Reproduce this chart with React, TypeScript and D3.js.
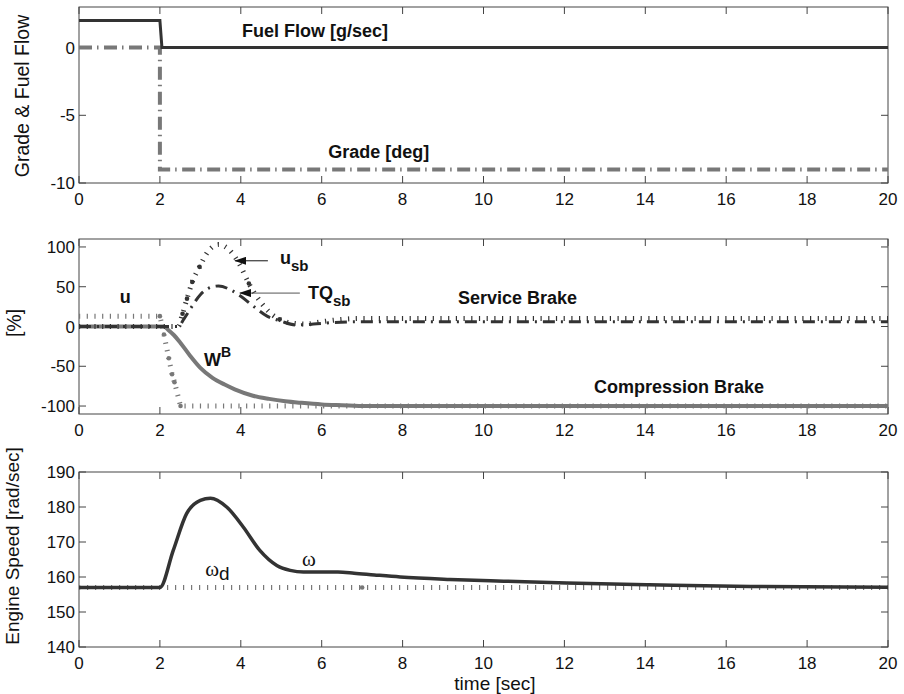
import React from "react";
import * as d3 from "d3";

// ---------- data ----------
const timeTicks = [0, 2, 4, 6, 8, 10, 12, 14, 16, 18, 20];
const topTicks = [-10, -5, 0];
const midTicks = [-100, -50, 0, 50, 100];
const botTicks = [140, 150, 160, 170, 180, 190];

const fuelT = [0, 2, 2.05, 20];
const fuelV = [2, 2, 0, 0];
const gradeT = [0, 2, 2, 20];
const gradeV = [0, 0, -9, -9];

const uT = [0, 2.0, 2.1, 2.22, 2.3, 2.36, 2.51, 20];
const uV = [13, 13, -10, -40, -60, -70, -100, -100];
const uDotT = [2.0, 2.1, 2.22, 2.3, 2.36, 2.51];
const uDotV = [13, -10, -40, -60, -70, -100];

const usbT = [0, 2.45, 2.56, 2.67, 2.8, 2.98, 3.2, 3.45, 3.7, 3.95, 4.2, 4.5, 4.8, 4.96, 5.3, 5.6, 6.0, 6.5, 7, 20];
const usbV = [0, 0, 16, 35, 56, 75, 95, 103, 97, 80, 54, 30, 14, 9, 4, 3, 6, 9, 10, 10];
const usbDotT = [2.56, 2.67, 2.8, 2.98, 4.2, 4.96];
const usbDotV = [16, 35, 56, 75, 54, 9];

const tqT = [0, 2.45, 2.6, 2.75, 3.0, 3.2, 3.45, 3.75, 4.0, 4.3, 4.65, 4.98, 5.35, 5.8, 6.3, 7, 20];
const tqV = [0, 0, 10, 22, 40, 48, 51, 46, 38, 26, 13, 7, 2, 3, 5, 6, 6];

const wbT = [0, 2.1, 2.2, 2.35, 2.5, 2.75, 3.0, 3.3, 3.6, 3.85, 4.3, 4.7, 5.1, 5.5, 6.0, 6.5, 7.1, 8, 20];
const wbV = [0, 0, -4, -11, -20, -37, -52, -64.5, -73, -79, -87, -91, -94, -96, -98, -99, -100, -100, -100];

const omegaT = [0, 2, 2.33, 2.66, 3.0, 3.25, 3.65, 4.06, 4.47, 4.89, 5.22, 5.55, 6.0, 6.4, 6.8, 7.3, 7.94, 9.17, 10.5, 12.06, 14.1, 16.6, 20];
const omegaV = [157, 157, 167.6, 178.1, 181.9, 182.5, 180, 174.3, 167.6, 163.3, 161.9, 161.4, 161.4, 161.4, 161.1, 160.6, 160, 159.3, 158.8, 158.3, 157.8, 157.3, 157.1];
const omegaDT = [0, 20];
const omegaDV = [157, 157];
const omegaDotT = [7];
const omegaDotV = [157];

// ---------- layout ----------
const W = 904, H = 694;
const XL = 79, XR = 888;
const SANS = "'Liberation Sans', Arial, Helvetica, sans-serif";
const SERIF = "'Liberation Serif', 'Times New Roman', serif";
const DARK = "#333";
const GRAY = "#787878";
const FRAME = "#444";

type Scale = d3.ScaleLinear<number, number>;

function pathOf(ts: number[], vs: number[], x: Scale, y: Scale, curve: d3.CurveFactory = d3.curveLinear) {
  const pts: [number, number][] = ts.map((t, i) => [t, vs[i]]);
  return d3.line<[number, number]>().x(d => x(d[0])).y(d => y(d[1])).curve(curve)(pts) || "";
}

function Frame({ x, y, yTicks }: { x: Scale; y: Scale; yTicks: number[] }) {
  const [b, t] = y.range();
  const tl = 7;
  return (
    <g>
      <rect x={XL} y={t} width={XR - XL} height={b - t} fill="none" stroke={FRAME} strokeWidth={1} />
      {timeTicks.map(v => (
        <g key={"x" + v}>
          <line x1={x(v)} x2={x(v)} y1={b} y2={b - tl} stroke={FRAME} />
          <line x1={x(v)} x2={x(v)} y1={t} y2={t + tl} stroke={FRAME} />
          <text x={x(v)} y={b + 22} fontSize={17} textAnchor="middle" fontFamily={SANS} fill="#111">{v}</text>
        </g>
      ))}
      {yTicks.map(v => (
        <g key={"y" + v}>
          <line x1={XL} x2={XL + tl} y1={y(v)} y2={y(v)} stroke={FRAME} />
          <line x1={XR} x2={XR - tl} y1={y(v)} y2={y(v)} stroke={FRAME} />
          <text x={XL - 4} y={y(v)} dy="0.36em" fontSize={17} textAnchor="end" fontFamily={SANS} fill="#111">{v}</text>
        </g>
      ))}
    </g>
  );
}

export default function App() {
  const x = d3.scaleLinear().domain([0, 20]).range([XL, XR]);
  const yTop = d3.scaleLinear().domain([-10, 3]).range([183, 7]);
  const yMid = d3.scaleLinear().domain([-110, 110]).range([414, 239]);
  const yBot = d3.scaleLinear().domain([140, 190]).range([647, 472]);
  const smooth = d3.curveMonotoneX;

  const boldText = { fontFamily: SANS, fontWeight: 700, fontSize: 18, fill: "#111" } as const;

  return (
    <svg width={W} height={H} style={{ position: "absolute", left: 0, top: 0, background: "#fff" }}>
      <defs>
        <marker id="ah" markerUnits="userSpaceOnUse" markerWidth={12} markerHeight={8} refX={11} refY={4} orient="auto">
          <path d="M0,0 L12,4 L0,8 z" fill="#111" />
        </marker>
      </defs>
      <rect x={0} y={0} width={W} height={H} fill="#fff" />

      {/* ---------- top panel ---------- */}
      <Frame x={x} y={yTop} yTicks={topTicks} />
      <path d={pathOf(gradeT, gradeV, x, yTop)} fill="none" stroke={GRAY} strokeWidth={4} strokeDasharray="13 5 1.5 5.5" />
      <path d={pathOf(fuelT, fuelV, x, yTop)} fill="none" stroke={DARK} strokeWidth={3} />
      <text x={x(4.03)} y={yTop(0.8)} {...boldText}>Fuel Flow [g/sec]</text>
      <text x={x(6.16)} y={yTop(-8.13)} {...boldText}>Grade [deg]</text>
      <text transform={`translate(29,96) rotate(-90)`} textAnchor="middle" fontFamily={SANS} fontSize={19.5} fill="#111">Grade &amp; Fuel Flow</text>

      {/* ---------- middle panel ---------- */}
      <Frame x={x} y={yMid} yTicks={midTicks} />
      <path d={pathOf(wbT, wbV, x, yMid, smooth)} fill="none" stroke={GRAY} strokeWidth={4} />
      <path d={pathOf(uT, uV, x, yMid)} fill="none" stroke={GRAY} strokeWidth={5} strokeDasharray="1.2 6.5" />
      {uDotT.map((t, i) => <circle key={"ud" + i} cx={x(t)} cy={yMid(uDotV[i])} r={2.3} fill={GRAY} />)}
      <path d={pathOf(tqT, tqV, x, yMid, smooth)} fill="none" stroke={DARK} strokeWidth={3} strokeDasharray="12 6 2 6" />
      <path d={pathOf(usbT, usbV, x, yMid, smooth)} fill="none" stroke={DARK} strokeWidth={5} strokeDasharray="1.2 6.5" />
      {usbDotT.map((t, i) => <circle key={"sd" + i} cx={x(t)} cy={yMid(usbDotV[i])} r={2.3} fill={DARK} />)}

      <text x={x(1.01)} y={yMid(29.3)} {...boldText}>u</text>
      <text x={x(4.97)} y={yMid(78.5)} {...boldText}>u<tspan fontSize={15} dy={7}>sb</tspan></text>
      <text x={x(5.66)} y={yMid(34)} {...boldText}>TQ<tspan fontSize={15} dy={7}>sb</tspan></text>
      <text x={x(3.09)} y={yMid(-49.6)} {...boldText}>W<tspan fontSize={14} dy={-9}>B</tspan></text>
      <text x={x(9.37)} y={yMid(28)} {...boldText}>Service Brake</text>
      <text x={x(12.73)} y={yMid(-84)} {...boldText}>Compression Brake</text>
      <line x1={x(4.67)} x2={x(3.86)} y1={yMid(82.6)} y2={yMid(82.6)} stroke="#111" strokeWidth={1} markerEnd="url(#ah)" />
      <line x1={x(5.46)} x2={x(3.98)} y1={yMid(42)} y2={yMid(42)} stroke="#555" strokeWidth={1} markerEnd="url(#ah)" />
      <text transform={`translate(21,323) rotate(-90)`} textAnchor="middle" fontFamily={SANS} fontSize={19.5} fill="#111">[%]</text>

      {/* ---------- bottom panel ---------- */}
      <Frame x={x} y={yBot} yTicks={botTicks} />
      <path d={pathOf(omegaDT, omegaDV, x, yBot)} fill="none" stroke={GRAY} strokeWidth={5} strokeDasharray="1.2 6.8" />
      {omegaDotT.map((t, i) => <circle key={"od" + i} cx={x(t)} cy={yBot(omegaDotV[i])} r={2.3} fill={GRAY} />)}
      <path d={pathOf(omegaT, omegaV, x, yBot, smooth)} fill="none" stroke={DARK} strokeWidth={3.5} />
      <text x={x(3.12)} y={yBot(160.2)} fontFamily={SERIF} fontSize={21} fill="#111">ω<tspan fontFamily={SANS} fontSize={19} dy={4}>d</tspan></text>
      <text x={x(5.51)} y={yBot(163.05)} fontFamily={SERIF} fontSize={21} fill="#111">ω</text>
      <text transform={`translate(19,546) rotate(-90)`} textAnchor="middle" fontFamily={SANS} fontSize={19} fill="#111">Engine Speed [rad/sec]</text>
      <text x={495} y={690} textAnchor="middle" fontFamily={SANS} fontSize={19} fill="#111">time [sec]</text>
    </svg>
  );
}
